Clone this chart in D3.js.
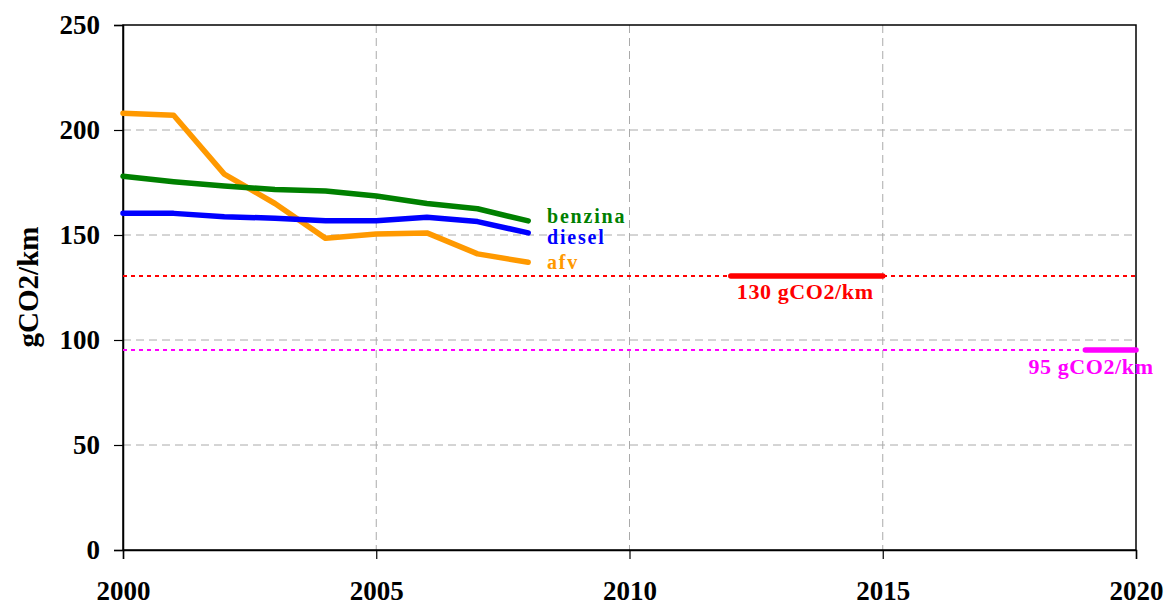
<!DOCTYPE html>
<html><head><meta charset="utf-8">
<script src="https://cdn.jsdelivr.net/npm/d3@7"></script>
<style>body{margin:0;background:#fff}svg{display:block}text{font-family:"Liberation Serif","Times New Roman",serif;font-weight:bold}</style>
</head><body><svg id="c" width="1168" height="606"></svg>
<script>
const years = [2000,2001,2002,2003,2004,2005,2006,2007,2008];
const benzina = [178,175.4,173.3,171.7,171,168.6,165,162.5,156.7];
const diesel = [160.3,160.3,158.7,158,156.8,156.8,158.4,156.4,151];
const afv = [208,207,179,165,148.4,150.5,151,141,137];
const yTicks = [0,50,100,150,200,250];
const xTicks = [2000,2005,2010,2015,2020];
const target2015 = {value:130.5, from:2012, to:2015, label:"130 gCO2/km"};
const target2020 = {value:95.2, from:2019, to:2020, label:"95 gCO2/km"};

const svg = d3.select("#c");
const L=123,R=1136,T=25,B=550;
const x = d3.scaleLinear().domain([2000,2020]).range([L,R]);
const y = d3.scaleLinear().domain([0,250]).range([B,T]);

// grid
svg.append("g").selectAll("line").data(yTicks.filter(d=>d>0&&d<250)).join("line")
 .attr("x1",L).attr("x2",R).attr("y1",d=>y(d)).attr("y2",d=>y(d))
 .attr("stroke","#aaa").attr("stroke-width",1).attr("stroke-dasharray","8,5");
svg.append("g").selectAll("line").data(xTicks.filter(d=>d>2000&&d<2020)).join("line")
 .attr("y1",T).attr("y2",B).attr("x1",d=>x(d)).attr("x2",d=>x(d))
 .attr("stroke","#aaa").attr("stroke-width",1).attr("stroke-dasharray","8,5");

// frame
svg.append("rect").attr("x",L).attr("y",T).attr("width",R-L).attr("height",B-T)
 .attr("fill","none").attr("stroke","#000").attr("stroke-width",1.5);

// axes
const ya = svg.append("g").attr("transform",`translate(${L},0)`)
 .call(d3.axisLeft(y).tickValues(yTicks).tickSize(9).tickPadding(14));
const xa = svg.append("g").attr("transform",`translate(0,${B})`)
 .call(d3.axisBottom(x).tickValues(xTicks).tickFormat(d3.format("d")).tickSize(9).tickPadding(22));
[ya,xa].forEach(a=>{a.select(".domain").attr("stroke","#000").attr("stroke-width",1.5);
 a.selectAll(".tick line").attr("stroke","#000").attr("stroke-width",1.2);
 a.selectAll("text").attr("font-family","Liberation Serif, serif").attr("font-weight","bold").attr("font-size",27).attr("fill","#000");});

svg.append("text").attr("transform","translate(38,287) rotate(-90)").attr("text-anchor","middle")
 .attr("font-size",29).text("gCO2/km");

// target dotted lines
function target(t,color){
  svg.append("line").attr("x1",L).attr("x2",R).attr("y1",y(t.value)).attr("y2",y(t.value))
   .attr("stroke",color).attr("stroke-width",2).attr("stroke-dasharray","4,4");
  svg.append("line").attr("x1",x(t.from)).attr("x2",x(t.to)).attr("y1",y(t.value)).attr("y2",y(t.value))
   .attr("stroke",color).attr("stroke-width",5.5).attr("stroke-linecap","round");
}
target(target2015,"#ff0000");
target(target2020,"#ff00ff");
svg.append("text").attr("x",x(2012)+6).attr("y",y(target2015.value)+23).attr("fill","#ff0000")
 .attr("font-size",22).attr("letter-spacing",0.6).text(target2015.label);
svg.append("text").attr("x",1091).attr("y",y(target2020.value)+24).attr("fill","#ff00ff").attr("text-anchor","middle")
 .attr("font-size",22).attr("letter-spacing",0.6).text(target2020.label);

// series
const line = d3.line().x((d,i)=>x(years[i])).y(d=>y(d));
const series = [{name:"afv",data:afv,color:"#ff9900"},{name:"diesel",data:diesel,color:"#0000ff"},{name:"benzina",data:benzina,color:"#008000"}];
series.forEach(s=>{
  svg.append("path").attr("d",line(s.data)).attr("fill","none").attr("stroke",s.color)
   .attr("stroke-width",5.5).attr("stroke-linejoin","round").attr("stroke-linecap","round");
});
const labY = {benzina:223, diesel:244, afv:269};
series.forEach(s=>{
  svg.append("text").attr("x",547).attr("y",labY[s.name]).attr("fill",s.color)
   .attr("font-size",20).attr("letter-spacing",1.8).text(s.name);
});
</script></body></html>
